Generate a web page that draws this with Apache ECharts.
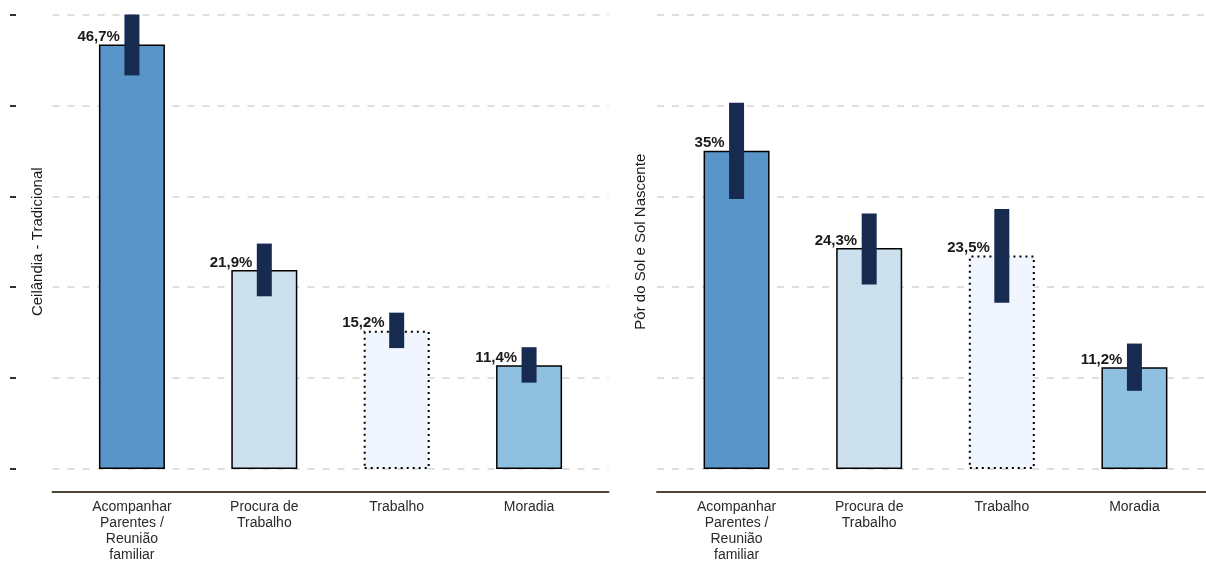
<!DOCTYPE html>
<html>
<head>
<meta charset="utf-8">
<script src="https://cdn.jsdelivr.net/npm/echarts@6/dist/echarts.min.js"></script>
<style>
html,body{margin:0;padding:0;background:#fff;}
#chart{width:1206px;height:561px;}
</style>
</head>
<body>
<div id="chart"></div>
<script>
// ---- data ----
const categories = ['Acompanhar\nParentes /\nReunião\nfamiliar', 'Procura de\nTrabalho', 'Trabalho', 'Moradia'];
const panelNames = ['Ceilândia - Tradicional', 'Pôr do Sol e Sol Nascente'];
const valuesCeilandia = [46.7, 21.9, 15.2, 11.4];
const lowCeilandia = [43.3, 19.0, 13.3, 9.5];
const highCeilandia = [50.0, 24.8, 17.2, 13.4];
const valuesPorDoSol = [35.0, 24.3, 23.5, 11.2];
const lowPorDoSol = [29.7, 20.3, 18.3, 8.6];
const highPorDoSol = [40.3, 28.1, 28.6, 13.8];
const yTicks = [0, 10, 20, 30, 40, 50];

// ---- styles ----
const barColors = ['#5995c8', '#cde0ed', '#f1f5fd', '#8fc0df'];
const dottedIndex = 2;
const errColor = '#172a4f';
const font = 'Liberation Sans, Arial, Helvetica, sans-serif';

const chart = echarts.init(document.getElementById('chart'), null, {renderer: 'canvas'});

function fmt(v) {
  return (Number.isInteger(v) ? String(v) : v.toFixed(1).replace('.', ',')) + '%';
}

const grids = [
  {left: 52.5, width: 556, top: 14.5, height: 454.5, outerBoundsMode: 'none', containLabel: false},
  {left: 657, width: 557, top: 14.5, height: 454.5, outerBoundsMode: 'none', containLabel: false}
];

const xAxes = grids.map((g, i) => ({
  gridIndex: i, type: 'value', min: -0.6, max: 3.6, offset: 22.5,
  axisLine: {show: true, onZero: false, lineStyle: {color: '#4f463b', width: 2}},
  axisTick: {show: false}, splitLine: {show: false},
  axisLabel: {
    customValues: categories.map((c, k) => k),
    formatter: v => categories[Math.round(v)],
    color: '#2a2a2a', fontSize: 14, lineHeight: 16, margin: 8, fontFamily: font
  }
}));

const yMin = yTicks[0], yMax = yTicks[yTicks.length - 1], yStep = yTicks[1] - yTicks[0];
const splitStyle = {show: true, lineStyle: {color: '#dedede', width: 2, type: [7, 8]}};
const yAxes = [
  {gridIndex: 0, type: 'value', position: 'left', min: yMin, max: yMax, interval: yStep,
   name: panelNames[0], nameLocation: 'middle', nameGap: 7,
   nameTextStyle: {color: '#1a1a1a', fontSize: 15, fontFamily: font},
   axisLine: {show: false}, axisTick: {show: false}, axisLabel: {show: false}, splitLine: splitStyle},
  {gridIndex: 0, type: 'value', position: 'left', min: yMin, max: yMax, interval: yStep, offset: 36.5,
   axisLine: {show: false}, axisTick: {show: true, length: 6, lineStyle: {color: '#333', width: 2}},
   axisLabel: {show: false}, splitLine: {show: false}},
  {gridIndex: 1, type: 'value', position: 'left', min: yMin, max: yMax, interval: yStep,
   name: panelNames[1], nameLocation: 'middle', nameGap: 9,
   nameTextStyle: {color: '#1a1a1a', fontSize: 15, fontFamily: font},
   axisLine: {show: false}, axisTick: {show: false}, axisLabel: {show: false}, splitLine: splitStyle}
];

const panels = [
  {vals: valuesCeilandia, lo: lowCeilandia, hi: highCeilandia, x: 0, y: 0},
  {vals: valuesPorDoSol, lo: lowPorDoSol, hi: highPorDoSol, x: 1, y: 2}
];

const series = [];
panels.forEach(p => {
  series.push({
    type: 'bar', xAxisIndex: p.x, yAxisIndex: p.y, barWidth: 66, z: 2,
    data: p.vals.map((v, i) => ({
      value: [i, v],
      itemStyle: {
        color: barColors[i], borderColor: '#000',
        borderWidth: i === dottedIndex ? 2 : 1.5,
        borderType: i === dottedIndex ? [2, 4] : 'solid'
      }
    })),
    label: {
      show: true, position: 'top', align: 'right', distance: 0, offset: [-12, 0],
      fontWeight: 'bold', fontSize: 15, color: '#1a1a1a', fontFamily: font,
      formatter: prm => fmt(prm.value[1])
    }
  });
  series.push({
    type: 'custom', xAxisIndex: p.x, yAxisIndex: p.y, z: 5,
    encode: {x: 0, y: [1, 2]},
    data: p.vals.map((v, i) => [i, p.lo[i], p.hi[i]]),
    renderItem: (params, api) => {
      const x = api.value(0);
      const a = api.coord([x, api.value(2)]);
      const b = api.coord([x, api.value(1)]);
      return {type: 'rect', shape: {x: a[0] - 7.5, y: a[1], width: 15, height: b[1] - a[1]},
              style: {fill: errColor}};
    }
  });
});

chart.setOption({
  animation: false,
  backgroundColor: '#fff',
  grid: grids,
  xAxis: xAxes,
  yAxis: yAxes,
  series: series
});
</script>
</body>
</html>
